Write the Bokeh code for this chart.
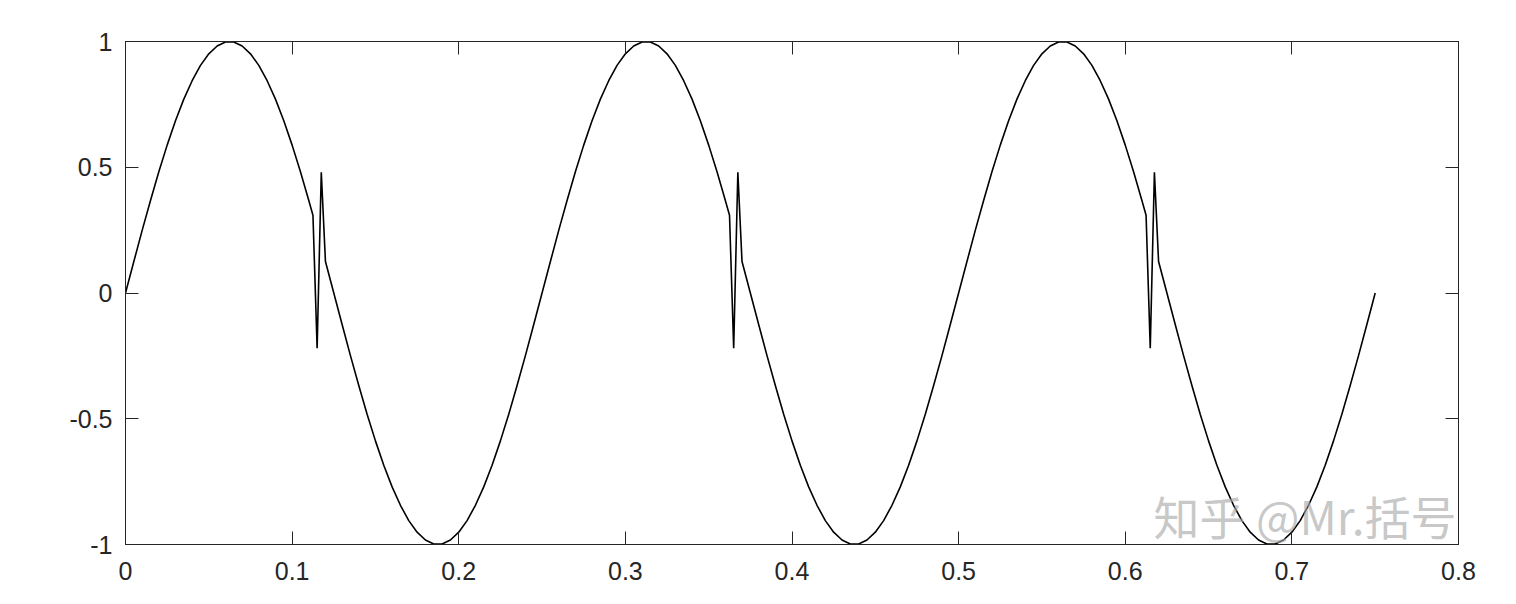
from bokeh.plotting import figure
from bokeh.models import LinearAxis, Label, Range1d, FixedTicker
from bokeh.embed import file_html
from bokeh.resources import INLINE

# ---- data ----
t = [
    0.000, 0.005, 0.010, 0.015, 0.020, 0.025, 0.030, 0.035, 0.040, 0.045,
    0.050, 0.055, 0.060, 0.065, 0.070, 0.075, 0.080, 0.085, 0.090, 0.095,
    0.100, 0.105, 0.110, 0.1125, 0.115, 0.1175, 0.120, 0.125,
    0.130, 0.135, 0.140, 0.145, 0.150, 0.155, 0.160, 0.165, 0.170, 0.175,
    0.180, 0.185, 0.190, 0.195, 0.200, 0.205, 0.210, 0.215, 0.220, 0.225,
    0.230, 0.235, 0.240, 0.245,
    0.250, 0.255, 0.260, 0.265, 0.270, 0.275, 0.280, 0.285, 0.290, 0.295,
    0.300, 0.305, 0.310, 0.315, 0.320, 0.325, 0.330, 0.335, 0.340, 0.345,
    0.350, 0.355, 0.360, 0.3625, 0.365, 0.3675, 0.370, 0.375,
    0.380, 0.385, 0.390, 0.395, 0.400, 0.405, 0.410, 0.415, 0.420, 0.425,
    0.430, 0.435, 0.440, 0.445, 0.450, 0.455, 0.460, 0.465, 0.470, 0.475,
    0.480, 0.485, 0.490, 0.495,
    0.500, 0.505, 0.510, 0.515, 0.520, 0.525, 0.530, 0.535, 0.540, 0.545,
    0.550, 0.555, 0.560, 0.565, 0.570, 0.575, 0.580, 0.585, 0.590, 0.595,
    0.600, 0.605, 0.610, 0.6125, 0.615, 0.6175, 0.620, 0.625,
    0.630, 0.635, 0.640, 0.645, 0.650, 0.655, 0.660, 0.665, 0.670, 0.675,
    0.680, 0.685, 0.690, 0.695, 0.700, 0.705, 0.710, 0.715, 0.720, 0.725,
    0.730, 0.735, 0.740, 0.745,
    0.750,
]
signal = [
    0.000, 0.125, 0.249, 0.368, 0.482, 0.588, 0.685, 0.771, 0.844, 0.905,
    0.951, 0.982, 0.998, 0.998, 0.982, 0.951, 0.905, 0.844, 0.771, 0.685,
    0.588, 0.482, 0.368, 0.309, -0.220, 0.480, 0.125, 0.000,
    -0.125, -0.249, -0.368, -0.482, -0.588, -0.685, -0.771, -0.844, -0.905, -0.951,
    -0.982, -0.998, -0.998, -0.982, -0.951, -0.905, -0.844, -0.771, -0.685, -0.588,
    -0.482, -0.368, -0.249, -0.125,
    0.000, 0.125, 0.249, 0.368, 0.482, 0.588, 0.685, 0.771, 0.844, 0.905,
    0.951, 0.982, 0.998, 0.998, 0.982, 0.951, 0.905, 0.844, 0.771, 0.685,
    0.588, 0.482, 0.368, 0.309, -0.220, 0.480, 0.125, 0.000,
    -0.125, -0.249, -0.368, -0.482, -0.588, -0.685, -0.771, -0.844, -0.905, -0.951,
    -0.982, -0.998, -0.998, -0.982, -0.951, -0.905, -0.844, -0.771, -0.685, -0.588,
    -0.482, -0.368, -0.249, -0.125,
    0.000, 0.125, 0.249, 0.368, 0.482, 0.588, 0.685, 0.771, 0.844, 0.905,
    0.951, 0.982, 0.998, 0.998, 0.982, 0.951, 0.905, 0.844, 0.771, 0.685,
    0.588, 0.482, 0.368, 0.309, -0.220, 0.480, 0.125, 0.000,
    -0.125, -0.249, -0.368, -0.482, -0.588, -0.685, -0.771, -0.844, -0.905, -0.951,
    -0.982, -0.998, -0.998, -0.982, -0.951, -0.905, -0.844, -0.771, -0.685, -0.588,
    -0.482, -0.368, -0.249, -0.125,
    0.000,
]
x_ticks = [0, 0.1, 0.2, 0.3, 0.4, 0.5, 0.6, 0.7, 0.8]
x_tick_labels = ["0", "0.1", "0.2", "0.3", "0.4", "0.5", "0.6", "0.7", "0.8"]
y_ticks = [-1, -0.5, 0, 0.5, 1]
y_tick_labels = ["-1", "-0.5", "0", "0.5", "1"]
watermark = "知乎 @Mr.括号"

FONT = "Liberation Sans"
AX = "#262626"

p = figure(width=1500, height=588, output_backend="svg", toolbar_location=None,
           x_range=Range1d(0, 0.8), y_range=Range1d(-1, 1),
           x_axis_location=None, y_axis_location=None,
           min_border_left=125, min_border_right=42,
           min_border_top=41, min_border_bottom=44)
p.xgrid.visible = False
p.ygrid.visible = False
p.outline_line_color = AX
p.outline_line_width = 1
p.background_fill_color = "white"
p.border_fill_color = "white"

def make_axis(ticks, labels, show_labels):
    ax = LinearAxis(ticker=FixedTicker(ticks=ticks))
    ax.major_label_overrides = {k: v for k, v in zip(ticks, labels)}
    ax.major_tick_in = 13
    ax.major_tick_out = 0
    ax.minor_tick_in = 0
    ax.minor_tick_out = 0
    ax.axis_line_color = AX
    ax.major_tick_line_color = AX
    ax.major_label_text_font = FONT
    ax.major_label_text_color = AX
    ax.major_label_text_font_size = "25px" if show_labels else "0px"
    if not show_labels:
        ax.major_label_text_alpha = 0
        ax.major_label_standoff = 0
    return ax

xb = make_axis(x_ticks, x_tick_labels, True)
xb.major_label_standoff = 17
xt = make_axis(x_ticks, x_tick_labels, False)
yl = make_axis(y_ticks, y_tick_labels, True)
yl.major_label_standoff = 13
yr = make_axis(y_ticks, y_tick_labels, False)
p.add_layout(xb, "below")
p.add_layout(xt, "above")
p.add_layout(yl, "left")
p.add_layout(yr, "right")

p.line(t, signal, line_color="black", line_width=1.6)

# watermark, kept just inside the plot frame (annotations are clipped to it)
p.add_layout(Label(x=1331, y=30, x_units="screen", y_units="screen",
                   text=watermark, text_baseline="middle",
                   text_align="right", text_font="Noto Sans CJK SC",
                   text_font_size="46px", text_color="#a8a8a8", text_alpha=0.65))

open("out.html", "w").write(file_html(p, INLINE))
